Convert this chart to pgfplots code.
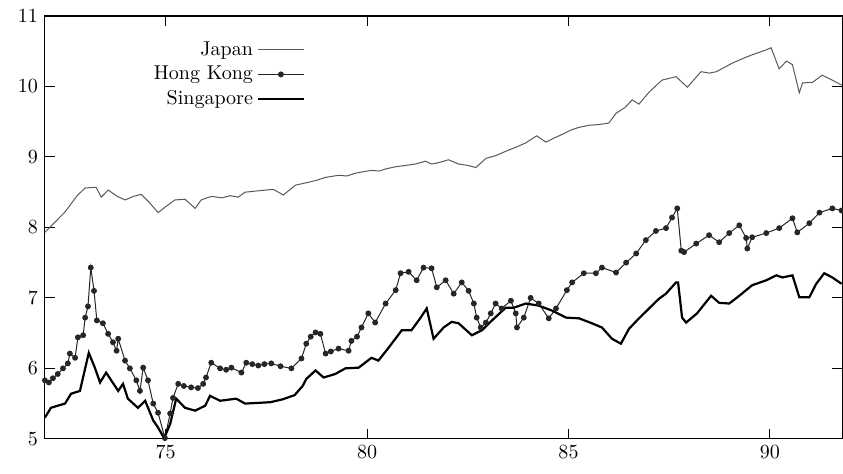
\documentclass[border=0pt]{standalone}
\usepackage{pgfplots}
\pgfplotsset{compat=1.18}
\begin{document}
\begin{tikzpicture}
\begin{axis}[
  scale only axis,
  width=398pt, height=211pt,
  xmin=72, xmax=91.8, ymin=5, ymax=11,
  xtick={75,80,85,90}, ytick={5,6,7,8,9,10,11},
  tick align=inside, major tick length=5pt,
  tick style={black, line width=0.5pt},
  axis line style={black, line width=0.6pt},
  legend cell align=right,
  legend plot pos=right,
  legend style={draw=none, fill=none, at={(0.334,0.96)}, anchor=north east, font=\normalsize, row sep=0pt},
  legend image code/.code={\draw[mark repeat=2,mark phase=2] plot coordinates {(0cm,0cm) (0.4cm,0cm) (0.8cm,0cm)};},
]
\addplot[black!65, line width=0.5pt] coordinates {
(72.00,7.93) (72.50,8.22) (72.80,8.45) (73.00,8.56) (73.27,8.57) (73.40,8.43) (73.57,8.53) (73.80,8.44) (73.99,8.39)
(74.20,8.44) (74.39,8.47) (74.60,8.35) (74.81,8.21) (74.99,8.29) (75.23,8.39) (75.48,8.40) (75.73,8.27) (75.88,8.39)
(76.13,8.44) (76.40,8.42) (76.60,8.45) (76.80,8.43) (76.97,8.50) (77.30,8.52) (77.67,8.54) (77.92,8.46) (78.22,8.60)
(78.54,8.64) (78.75,8.67) (78.97,8.71) (79.29,8.74) (79.50,8.73) (79.71,8.77) (79.90,8.79) (80.11,8.81) (80.30,8.80) (80.46,8.83)
(80.70,8.86) (80.96,8.88) (81.20,8.90) (81.45,8.94) (81.60,8.90) (81.78,8.92) (82.02,8.96) (82.27,8.90) (82.50,8.88) (82.70,8.85)
(82.95,8.98) (83.20,9.02) (83.44,9.08) (83.70,9.14) (83.94,9.20) (84.21,9.30) (84.44,9.21) (84.65,9.27) (84.84,9.32) (85.05,9.38) (85.26,9.42)
(85.51,9.45) (85.75,9.46) (86.00,9.48) (86.18,9.62) (86.40,9.70) (86.58,9.81) (86.75,9.75) (87.00,9.92) (87.32,10.09) (87.67,10.14)
(87.95,9.99) (88.29,10.21) (88.50,10.19) (88.67,10.21) (89.06,10.33) (89.30,10.39) (89.56,10.45) (89.91,10.52) (90.03,10.55)
(90.23,10.25) (90.41,10.36) (90.56,10.31) (90.73,9.91) (90.81,10.05) (91.06,10.06) (91.30,10.16) (91.55,10.09) (91.78,10.02)
};
\addlegendentry{Japan}
\addplot[black!85, line width=0.5pt, mark=*, mark size=1.2pt, mark options={solid, fill=black!85}] coordinates {
(72.00,5.83) (72.10,5.80) (72.20,5.86) (72.32,5.92) (72.45,6.00) (72.57,6.07) (72.62,6.21) (72.75,6.15) (72.82,6.44)
(72.95,6.47) (73.00,6.72) (73.07,6.88) (73.14,7.43) (73.22,7.10) (73.29,6.68) (73.44,6.64) (73.57,6.49) (73.69,6.37)
(73.78,6.25) (73.82,6.42) (73.99,6.11) (74.11,6.00) (74.27,5.83) (74.36,5.68) (74.44,6.01) (74.56,5.83) (74.69,5.50)
(74.81,5.37) (74.98,5.01) (75.11,5.36) (75.18,5.58) (75.31,5.78) (75.45,5.75) (75.63,5.73) (75.80,5.72) (75.93,5.78)
(76.00,5.87) (76.13,6.08) (76.35,6.00) (76.50,5.98) (76.63,6.01) (76.88,5.94) (77.00,6.08) (77.15,6.06) (77.30,6.04)
(77.45,6.06) (77.62,6.07) (77.85,6.03) (78.12,6.00) (78.37,6.14) (78.49,6.35) (78.60,6.45) (78.72,6.51) (78.84,6.49)
(78.97,6.21) (79.10,6.24) (79.29,6.28) (79.54,6.25) (79.61,6.39) (79.75,6.45) (79.86,6.58) (80.03,6.78) (80.20,6.65)
(80.46,6.92) (80.71,7.11) (80.83,7.35) (81.03,7.37) (81.23,7.25) (81.40,7.43) (81.60,7.42) (81.73,7.15) (81.95,7.25)
(82.15,7.06) (82.35,7.22) (82.52,7.10) (82.65,6.92) (82.72,6.72) (82.82,6.58) (82.95,6.65) (83.07,6.78) (83.19,6.92)
(83.34,6.85) (83.57,6.96) (83.69,6.78) (83.72,6.58) (83.89,6.72) (84.06,7.00) (84.26,6.92) (84.51,6.71) (84.69,6.85)
(84.96,7.11) (85.09,7.22) (85.38,7.35) (85.68,7.35) (85.83,7.43) (86.18,7.36) (86.43,7.50) (86.68,7.63) (86.92,7.82)
(87.17,7.95) (87.42,7.99) (87.57,8.14) (87.70,8.27) (87.80,7.67) (87.87,7.65) (88.17,7.77) (88.49,7.89) (88.74,7.79)
(88.99,7.92) (89.24,8.03) (89.41,7.85) (89.44,7.70) (89.56,7.86) (89.91,7.92) (90.23,7.99) (90.56,8.13) (90.68,7.93)
(90.98,8.06) (91.23,8.21) (91.55,8.27) (91.78,8.24)
};
\addlegendentry{Hong Kong}
\addplot[black, line width=1.1pt] coordinates {
(72.00,5.30) (72.15,5.44) (72.32,5.47) (72.50,5.50) (72.65,5.64) (72.87,5.68) (73.09,6.22) (73.24,6.01) (73.37,5.80)
(73.52,5.94) (73.82,5.68) (73.94,5.78) (74.06,5.57) (74.31,5.44) (74.49,5.54) (74.69,5.26) (74.81,5.16) (74.96,5.01)
(75.11,5.21) (75.26,5.57) (75.48,5.44) (75.73,5.40) (75.98,5.47) (76.10,5.61) (76.35,5.54) (76.75,5.57) (76.97,5.50)
(77.30,5.51) (77.60,5.52) (77.90,5.56) (78.20,5.62) (78.40,5.75) (78.49,5.85) (78.72,5.97) (78.92,5.87) (79.21,5.92)
(79.46,6.00) (79.79,6.01) (80.11,6.15) (80.28,6.11) (80.53,6.29) (80.86,6.54) (81.10,6.54) (81.33,6.72) (81.48,6.85)
(81.65,6.42) (81.90,6.58) (82.10,6.66) (82.27,6.64) (82.60,6.47) (82.85,6.54) (83.10,6.68) (83.44,6.86) (83.64,6.86)
(83.94,6.92) (84.26,6.89) (84.59,6.82) (84.94,6.72) (85.26,6.71) (85.58,6.64) (85.83,6.58) (86.08,6.42) (86.30,6.35)
(86.50,6.56) (86.75,6.71) (87.00,6.85) (87.25,6.99) (87.42,7.06) (87.67,7.22) (87.72,7.22) (87.82,6.72) (87.92,6.65)
(88.19,6.78) (88.54,7.03) (88.74,6.93) (88.99,6.92) (89.24,7.03) (89.56,7.18) (89.91,7.25) (90.16,7.32) (90.31,7.29)
(90.56,7.32) (90.73,7.01) (90.98,7.01) (91.15,7.20) (91.35,7.35) (91.55,7.29) (91.78,7.20)
};
\addlegendentry{Singapore}
\end{axis}
\pgfresetboundingbox
\path ([shift={(-22.4pt,-17.5pt)}]current axis.south west) rectangle ([shift={(0.3pt,8pt)}]current axis.north east);
\end{tikzpicture}
\end{document}
